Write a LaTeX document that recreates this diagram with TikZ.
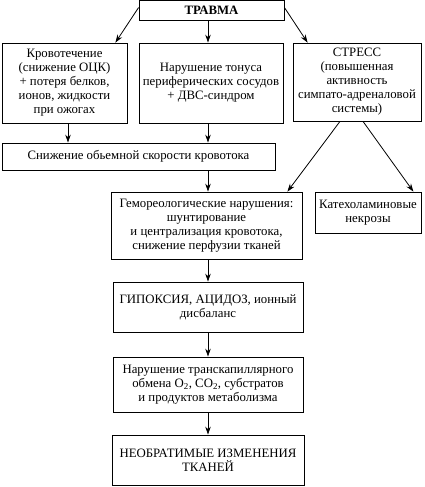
\documentclass[tikz,border=0pt]{standalone}
\usepackage{fontspec}
\setmainfont{Liberation Serif}
\usetikzlibrary{arrows.meta}
\begin{document}
\begin{tikzpicture}[x=1pt,y=-1pt,
  box/.style={draw,line width=0.8pt,align=center,inner sep=0pt,
    font=\fontsize{12.8}{14}\selectfont},
  arr/.style={line width=0.8pt,-{Stealth[length=8pt,width=5.5pt]}}]
\useasboundingbox (0,0) rectangle (424,487);
\node[box,minimum width=145,minimum height=20] (travma) at (211.5,10.5) {\textbf{ТРАВМА}};
\node[box,minimum width=125,minimum height=80] (left) at (64.5,83)
  {Кровотечение\\(снижение ОЦК)\\+ потеря белков,\\ионов, жидкости\\при ожогах};
\node[box,minimum width=144,minimum height=80] (mid) at (211,83)
  {Нарушение тонуса\\периферических сосудов\\+ ДВС-синдром};
\node[box,minimum width=128,minimum height=78] (right) at (357,82)
  {СТРЕСС\\(повышенная\\активность\\симпато-адреналовой\\системы)};
\node[box,minimum width=273,minimum height=27] (sniz) at (138.5,156.5)
  {Снижение обьемной скорости кровотока};
\node[box,minimum width=191,minimum height=67] (hemo) at (206.5,225.5)
  {Гемореологические нарушения:\\шунтирование\\и централизация кровотока,\\снижение перфузии тканей};
\node[box,minimum width=106,minimum height=41] (kat) at (368,212.5)
  {Катехоламиновые\\некрозы};
\node[box,minimum width=190,minimum height=50] (gip) at (208,307)
  {ГИПОКСИЯ, АЦИДОЗ, ионный\\дисбаланс};
\node[box,minimum width=190,minimum height=55] (nar) at (208,384.5)
  {Нарушение транскапиллярного\\обмена O\textsubscript{2}, CO\textsubscript{2}, субстратов\\и продуктов метаболизма};
\node[box,minimum width=192,minimum height=50] (neob) at (208,460)
  {НЕОБРАТИМЫЕ ИЗМЕНЕНИЯ\\ТКАНЕЙ};
\draw[arr] ([yshift=3pt]travma.west) -- ([xshift=-12pt]left.north east);
\draw[arr] (travma.south -| gip.north) -- (mid.north -| gip.north);
\draw[arr] ([yshift=3pt]travma.east) -- ([xshift=15pt]right.north west);
\draw[arr] ([xshift=3.5pt]left.south) -- ([xshift=3.5pt]left.south |- sniz.north);
\draw[arr] (mid.south -| gip.north) -- (sniz.north -| gip.north);
\draw[arr] (sniz.south -| gip.north) -- (hemo.north -| gip.north);
\draw[arr] ([xshift=-17pt]right.south) -- ([xshift=-15pt]hemo.north east);
\draw[arr] ([xshift=6pt]right.south) -- ([xshift=-8pt]kat.north east);
\draw[arr] (hemo.south -| gip.north) -- (gip.north);
\draw[arr] (gip.south) -- (nar.north);
\draw[arr] (nar.south) -- (neob.north);
\end{tikzpicture}
\end{document}
